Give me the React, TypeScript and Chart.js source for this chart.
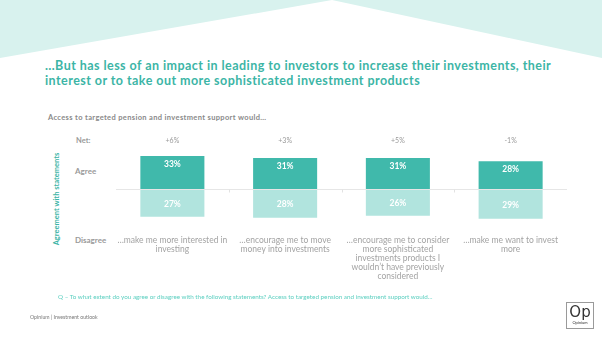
import React, { useEffect, useRef } from "react";
import { Chart, registerables } from "chart.js";

Chart.register(...registerables);

const categories: string[][] = [
  ["…make me more interested in", "investing"],
  ["…encourage me to move", "money into investments"],
  ["…encourage me to consider", "more sophisticated", "investments products I", "wouldn’t have previously", "considered"],
  ["…make me want to invest", "more"],
];
const agree = [33, 31, 31, 28];
const disagree = [27, 28, 26, 29];
const netLabels = ["+6%", "+3%", "+5%", "-1%"];

const FONT = "Lato, 'DejaVu Sans', sans-serif";
const TEAL = "#3cb5a6";
const AGREE_COLOR = "#40b9ab";
const DISAGREE_COLOR = "#b1e4de";
const GRAY = "#9a9a9a";

const labelPlugin = {
  id: "slideLabels",
  afterDatasetsDraw(chart: any) {
    const { ctx, scales } = chart;
    const x = scales.x;
    const y = scales.y;
    const zero = y.getPixelForValue(0);
    ctx.save();
    ctx.strokeStyle = "#e2e2e2";
    ctx.lineWidth = 1;
    for (let i = 0; i < categories.length - 1; i++) {
      const bx = Math.round((x.getPixelForValue(i) + x.getPixelForValue(i + 1)) / 2) + 0.5;
      ctx.beginPath();
      ctx.moveTo(bx, zero);
      ctx.lineTo(bx, zero + 3);
      ctx.stroke();
    }
    ctx.textAlign = "center";
    ctx.textBaseline = "middle";
    const m0 = chart.getDatasetMeta(0);
    const m1 = chart.getDatasetMeta(1);
    for (let i = 0; i < categories.length; i++) {
      const cx = x.getPixelForValue(i);
      ctx.fillStyle = "#ffffff";
      ctx.font = `bold 8.5px ${FONT}`;
      const top = m0.data[i].y;
      ctx.fillText(`${agree[i]}%`, cx, top + 8.5);
      const bot = m1.data[i].y;
      ctx.fillText(`${disagree[i]}%`, cx, (zero + bot) / 2 + 1);
      ctx.fillStyle = GRAY;
      ctx.font = `7px ${FONT}`;
      ctx.fillText(netLabels[i], cx, 141);
    }
    ctx.restore();
  },
};

function ChartCanvas() {
  const ref = useRef<HTMLCanvasElement | null>(null);
  useEffect(() => {
    if (!ref.current) return;
    const chart = new Chart(ref.current, {
      type: "bar",
      data: {
        labels: categories as any,
        datasets: [
          {
            label: "Agree",
            data: agree,
            backgroundColor: AGREE_COLOR,
            borderWidth: 0,
            barPercentage: 0.568,
            categoryPercentage: 1,
          },
          {
            label: "Disagree",
            data: disagree.map((v) => -v),
            backgroundColor: DISAGREE_COLOR,
            borderWidth: 0,
            barPercentage: 0.568,
            categoryPercentage: 1,
          },
        ],
      },
      options: {
        animation: false,
        responsive: false,
        maintainAspectRatio: false,
        layout: { padding: { left: 116, right: 35, top: 149, bottom: 49 } },
        plugins: { legend: { display: false }, tooltip: { enabled: false } },
        scales: {
          x: {
            stacked: true,
            grid: { display: false, drawTicks: false },
            border: { display: false },
            ticks: {
              color: "#a3a3a3",
              font: { family: FONT, size: 8.5, lineHeight: 1.06 },
              padding: 6,
              maxRotation: 0,
              autoSkip: false,
            },
            afterFit: (s: any) => {
              s.height = 60;
            },
          },
          y: {
            stacked: true,
            min: -40,
            max: 40,
            ticks: { display: false, stepSize: 40 },
            border: { display: false },
            grid: {
              drawTicks: false,
              color: (c: any) => (c.tick && c.tick.value === 0 ? "#e6e6e6" : "rgba(0,0,0,0)"),
            },
            afterFit: (s: any) => {
              s.width = 0;
            },
          },
        },
      },
      plugins: [labelPlugin],
    });
    return () => chart.destroy();
  }, []);
  return (
    <canvas
      ref={ref}
      width={602}
      height={339}
      style={{ position: "absolute", left: 0, top: 0, width: 602, height: 339 }}
    />
  );
}

export default function App() {
  const abs = (s: React.CSSProperties): React.CSSProperties => ({ position: "absolute", whiteSpace: "nowrap", ...s });
  return (
    <div
      style={{
        position: "fixed",
        left: 0,
        top: 0,
        width: 602,
        height: 339,
        background: "#ffffff",
        overflow: "hidden",
        fontFamily: FONT,
      }}
    >
      <svg width={602} height={339} style={{ position: "absolute", left: 0, top: 0 }}>
        <polygon points="0,0 332,0 0,58" fill="#d8f2ee" />
        <polygon points="332,0 602,0 602,58" fill="#d8f2ee" />
      </svg>
      <div
        style={abs({
          left: 45,
          top: 59,
          color: TEAL,
          fontWeight: 700,
          fontSize: 12.5,
          letterSpacing: 0.45,
          lineHeight: "14.5px",
        })}
      >
        …But has less of an impact in leading to investors to increase their investments, their
        <br />
        interest or to take out more sophisticated investment products
      </div>
      <div
        style={abs({
          left: 48,
          top: 113,
          color: "#8a8a8a",
          fontWeight: 700,
          fontSize: 7.5,
          letterSpacing: 0.35,
          lineHeight: "10px",
        })}
      >
        Access to targeted pension and investment support would…
      </div>
      <div style={abs({ left: 76, top: 136, color: GRAY, fontWeight: 700, fontSize: 7.5, lineHeight: "10px" })}>
        Net:
      </div>
      <div style={abs({ left: 75, top: 166, color: GRAY, fontWeight: 700, fontSize: 8, lineHeight: "11px" })}>
        Agree
      </div>
      <div style={abs({ left: 75, top: 235, color: GRAY, fontWeight: 700, fontSize: 8, lineHeight: "11px" })}>
        Disagree
      </div>
      <div
        style={abs({
          left: 57,
          top: 199,
          color: TEAL,
          fontWeight: 700,
          fontSize: 7.5,
          lineHeight: "10px",
          transform: "translate(-50%, -50%) rotate(-90deg)",
        })}
      >
        Agreement with statements
      </div>
      <ChartCanvas />
      <div style={abs({ left: 58, top: 293, color: "#5ccfc0", fontSize: 6.3, lineHeight: "8px" })}>
        Q – To what extent do you agree or disagree with the following statements? Access to targeted pension and investment support would…
      </div>
      <div style={abs({ left: 30, top: 313, color: "#777777", fontSize: 5.2, lineHeight: "8px" })}>
        Opinium | Investment outlook
      </div>
      <div
        style={{
          position: "absolute",
          left: 566,
          top: 302,
          width: 26,
          height: 25,
          border: "1px solid #9a9a9a",
          textAlign: "center",
          color: "#333333",
        }}
      >
        <div style={{ fontSize: 15, lineHeight: "16px", marginTop: 1, fontFamily: "'DejaVu Sans', sans-serif" }}>Op</div>
        <div style={{ fontSize: 4, lineHeight: "5px" }}>Opinium</div>
      </div>
    </div>
  );
}
